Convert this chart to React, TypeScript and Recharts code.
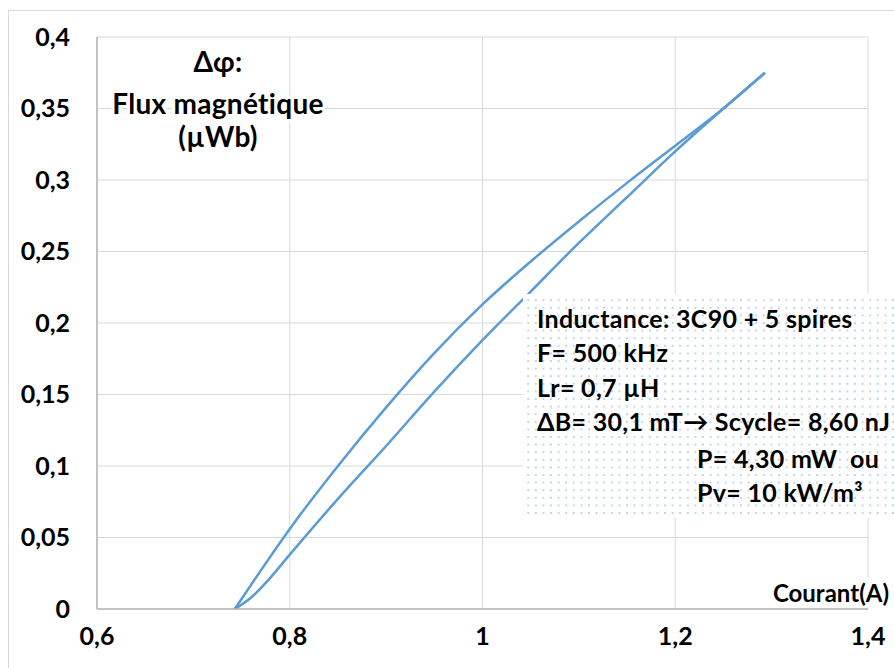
import { CartesianGrid, Line, LineChart, XAxis, YAxis } from "recharts";

// hysteresis loop: rising branch (lower) and return branch (upper)
const lowerX = [0.743, 0.76, 0.78, 0.8, 0.85, 0.9, 0.95, 1.0, 1.05, 1.1, 1.15, 1.2, 1.25, 1.293];
const lowerY = [0, 0.008, 0.022, 0.038, 0.077, 0.114, 0.152, 0.188, 0.222, 0.256, 0.288, 0.32, 0.35, 0.375];
const upperX = [0.743, 0.77, 0.8, 0.85, 0.9, 0.95, 1.0, 1.05, 1.1, 1.15, 1.2, 1.25, 1.293];
const upperY = [0, 0.027, 0.056, 0.1, 0.141, 0.179, 0.213, 0.243, 0.271, 0.298, 0.324, 0.35, 0.375];

const xTicks = [0.6, 0.8, 1, 1.2, 1.4];
const yTicks = [0, 0.05, 0.1, 0.15, 0.2, 0.25, 0.3, 0.35, 0.4];

const yTitle = ["Δφ:", "Flux magnétique", "(µWb)"];
const xTitle = "Courant(A)";
const noteLines = [
  "Inductance: 3C90 + 5 spires",
  "F= 500 kHz",
  "Lr= 0,7 µH",
  "ΔB= 30,1 mT→ Scycle= 8,60 nJ",
];
const noteLinesRight = ["P= 4,30 mW  ou", "Pv= 10 kW/m³"];

const FONT = "Lato, 'Open Sans', sans-serif";
const fmt = (v: number) => String(v).replace(".", ",");

const lower = lowerX.map((x, i) => ({ x, y: lowerY[i] }));
const upper = upperX.map((x, i) => ({ x, y: upperY[i] }));

export default function App() {
  const tickStyle = { fontSize: 25, fontWeight: 700, fill: "#000", fontFamily: FONT };
  return (
    <div style={{ position: "absolute", left: 0, top: 0, width: 894, height: 668, background: "#fff" }}>
      <LineChart width={894} height={668} margin={{ top: 37, right: 26, bottom: 0, left: 0 }}>
        <CartesianGrid stroke="#d9d9d9" strokeWidth={1} />
        <XAxis
          type="number"
          dataKey="x"
          domain={[0.6, 1.4]}
          ticks={xTicks}
          allowDataOverflow
          height={59}
          tickSize={0}
          tickMargin={18}
          tickFormatter={fmt}
          tick={tickStyle}
          axisLine={{ stroke: "#b4b4b4", strokeWidth: 1.5 }}
        />
        <YAxis
          type="number"
          dataKey="y"
          domain={[0, 0.4]}
          ticks={yTicks}
          allowDataOverflow
          width={97}
          tickSize={0}
          tickMargin={27}
          tickFormatter={fmt}
          tick={tickStyle}
          axisLine={{ stroke: "#b4b4b4", strokeWidth: 1.5 }}
        />
        <Line
          data={lower}
          dataKey="y"
          type="monotone"
          stroke="#5b9bd5"
          strokeWidth={2.5}
          dot={false}
          isAnimationActive={false}
        />
        <Line
          data={upper}
          dataKey="y"
          type="monotone"
          stroke="#5b9bd5"
          strokeWidth={2.5}
          dot={false}
          isAnimationActive={false}
        />
      </LineChart>

      <svg
        width={894}
        height={668}
        style={{ position: "absolute", left: 0, top: 0, pointerEvents: "none" }}
        fontFamily={FONT}
        fontWeight={700}
      >
        <defs>
          <pattern id="dots" width={7.6} height={7.6} patternUnits="userSpaceOnUse">
            <rect width={7.6} height={7.6} fill="#fff" />
            <rect x={3} y={3} width={1.6} height={1.6} fill="#9ec4ea" />
          </pattern>
        </defs>
        <rect x={8.5} y={10.5} width={900} height={700} fill="none" stroke="#d9d9d9" />

        {yTitle.map((t, i) => (
          <text
            key={t}
            x={218}
            y={[72, 114, 147][i]}
            textAnchor="middle"
            fontSize={28}
            letterSpacing={0.3}
            fill="#000"
            stroke="#fff"
            strokeWidth={6}
            paintOrder="stroke"
          >
            {t}
          </text>
        ))}

        <rect x={776} y={578} width={118} height={29} fill="#fff" />
        <text x={889} y={602} textAnchor="end" fontSize={24} fill="#000">
          {xTitle}
        </text>

        <rect x={523} y={294} width={371} height={224} fill="url(#dots)" />
        {noteLines.map((t, i) => (
          <text
            key={t}
            x={537}
            y={328 + i * 34.4}
            fontSize={25}
            letterSpacing={0.3}
            fill="#000"
            style={{ whiteSpace: "pre" }}
          >
            {t}
          </text>
        ))}
        {noteLinesRight.map((t, i) => (
          <text
            key={t}
            x={697}
            y={468 + i * 34}
            fontSize={25}
            letterSpacing={0.3}
            fill="#000"
            style={{ whiteSpace: "pre" }}
          >
            {t}
          </text>
        ))}
      </svg>
    </div>
  );
}
